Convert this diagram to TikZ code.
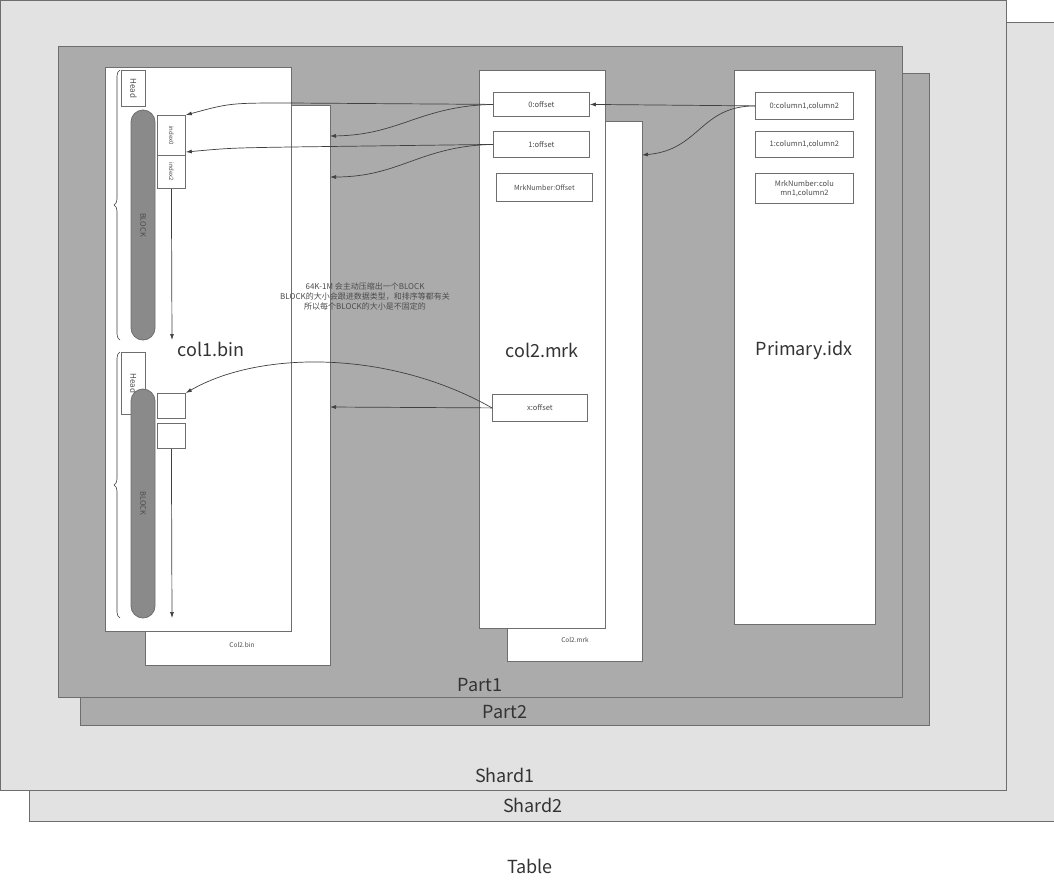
\documentclass[tikz,border=0pt]{standalone}
\usepackage{fontspec}
\setmainfont{Noto Sans CJK SC}
\usetikzlibrary{positioning}
\usetikzlibrary{calc}
\usetikzlibrary{arrows.meta,decorations.pathreplacing}

\definecolor{shardgray}{HTML}{E2E2E2}
\definecolor{partgray}{HTML}{ABABAB}
\definecolor{edgegray}{HTML}{6E6E6E}
\definecolor{blockgray}{HTML}{8A8A8A}

\tikzset{
  layer/.style={draw=edgegray,line width=0.8pt},
  file/.style={draw=edgegray,fill=white,line width=0.8pt},
  entry/.style={draw=edgegray,fill=white,line width=0.8pt,inner sep=0pt,
    font=\fontsize{7.5}{9}\selectfont,text=black!70,align=center},
  pill/.style={draw=edgegray,fill=blockgray,rounded corners=12pt,line width=0.8pt},
  link/.style={draw=black!75,line width=0.7pt,-{Latex[length=6pt,width=4pt]}},
  big/.style={font=\fontsize{18}{20}\selectfont,text=black!80},
  small/.style={font=\fontsize{6.5}{8}\selectfont,text=black!70}
}

\begin{document}
\begin{tikzpicture}[x=1pt,y=-1pt]

\useasboundingbox (0,0) rectangle (1054,887);

% shards and parts
\fill[shardgray,layer] (29,22) rectangle (1054,821);
\fill[shardgray,layer] (0,0) rectangle (1006,790);
\fill[partgray,layer] (80,73) rectangle (929,725);
\fill[partgray,layer] (58,46) rectangle (902,697);

\node[big] (part1) at (480,685) {Part1};
\node[big] (part2) at (505,712) {Part2};
\node[big] (shard1) at (505,775) {Shard1};
\node[big] (shard2) at (533,805) {Shard2};
\node[big] (table) at (530,866) {Table};

% files
\draw[file] (145,105) rectangle (330,665);
\draw[file] (105,67) rectangle (291,631);
\draw[file] (507,121) rectangle (642,661);
\draw[file] (479,70) rectangle (605,628);
\draw[file] (734,70) rectangle (875,624);

\node[small] (col2bin) at (242,645) {Col2.bin};
\node[small] (col2mrkb) at (575,640) {Col2.mrk};
\node[big] (col1bin) at (211,349) {col1.bin};
\node[big] (col2mrk) at (542,350) {col2.mrk};
\node[big] (primary) at (804,350) {Primary.idx};

\coordinate (bin2a) at (330,136);
\coordinate (bin2b) at (330,177);
\coordinate (bin2x) at (330,407);
\coordinate (mrk2a) at (642,155);

% blocks of col1.bin
\foreach \t/\b/\h/\p [count=\i] in {70/340/106/110, 352/618/414/389}{
  \draw[decorate,decoration={brace,amplitude=6pt},line width=0.6pt,draw=black!75]
    (120,\b) -- (120,\t);
  \pgfmathsetmacro\hh{\h-\t}
  \node[entry,minimum width=24pt,minimum height=\hh pt,anchor=north west]
    (head\i) at (121,\t) {\rotatebox{-90}{\fontsize{8}{9}\selectfont Head}};
  \draw[pill] (131,\p) rectangle (155,\b);
  \node[text=black!70,font=\fontsize{7.5}{9}\selectfont] (block\i)
    at (143,{(\p+\b)/2}) {\rotatebox{-90}{BLOCK}};
}

\node[entry,minimum width=28pt,minimum height=40pt,anchor=north west] (idx0) at (157,115)
  {\rotatebox{-90}{\fontsize{6}{7}\selectfont index0}};
\node[entry,minimum width=28pt,minimum height=33pt,anchor=north west] (idx2) at (157,155)
  {\rotatebox{-90}{\fontsize{6}{7}\selectfont index2}};
\node[entry,minimum width=28pt,minimum height=25pt,anchor=north west] (idx3) at (157,393) {};
\node[entry,minimum width=28pt,minimum height=25pt,anchor=north west] (idx4) at (157,423) {};
\coordinate (end1) at (172,340);
\coordinate (end2) at (172,618);
\draw[link] (idx2.south) -- (end1);
\draw[link] (idx4.south) -- (end2);

\node[small,align=center,font=\fontsize{8}{10}\selectfont] (note) at (365,296)
  {64K-1M 会主动压缩出一个BLOCK\\BLOCK的大小会跟进数据类型，和排序等都有关\\所以每个BLOCK的大小是不固定的};

% marks
\node[entry,minimum width=96pt,minimum height=24pt,anchor=north west] (off0) at (493,92) {0:offset};
\node[entry,minimum width=96pt,minimum height=26pt,anchor=north west] (off1) at (493,131) {1:offset};
\node[entry,minimum width=96pt,minimum height=28pt,anchor=north west,font=\fontsize{7}{9}\selectfont]
  (offn) at (496,173) {MrkNumber:Offset};
\node[entry,minimum width=95pt,minimum height=27pt,anchor=north west] (offx) at (492,394) {x:offset};

% primary index
\node[entry,minimum width=98pt,minimum height=27pt,anchor=north west] (pk0) at (755,92) {0:column1,column2};
\node[entry,minimum width=98pt,minimum height=26pt,anchor=north west] (pk1) at (755,131) {1:column1,column2};
\node[entry,minimum width=98pt,minimum height=30pt,anchor=north west] (pkn) at (755,173)
  {MrkNumber:colu\\mn1,column2};

% links
\draw[link] (off0.west) -- (290,103) .. controls (230,103) .. (idx0.north east);
\draw[link] (off0.west) .. controls (420,106) and (400,135) .. (bin2a);
\draw[link] (off1.west) -- (290,147) .. controls (230,148) .. ($(idx2.north east)+(0,-3)$);
\draw[link] (off1.west) .. controls (420,146) and (400,177) .. (bin2b);
\draw[link] (pk0.west) -- (off0.east);
\draw[link] (pk0.west) .. controls (700,106) and (700,150) .. (mrk2a);
\draw[link] (offx.west) .. controls (390,350) and (260,350) .. (idx3.north east);
\draw[link] (offx.west) -- (bin2x);

\end{tikzpicture}
\end{document}
